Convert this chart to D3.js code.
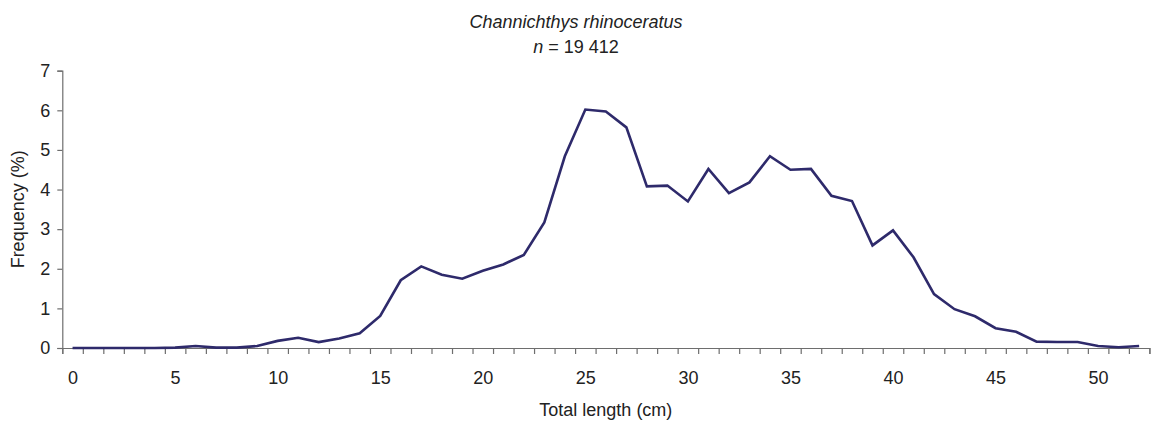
<!DOCTYPE html>
<html>
<head>
<meta charset="utf-8">
<script src="https://cdn.jsdelivr.net/npm/d3@7/dist/d3.min.js"></script>
<style>
  html, body { margin: 0; padding: 0; background: #fff; }
  svg { display: block; font-family: "Liberation Sans", Arial, sans-serif; }
</style>
</head>
<body>
<svg id="chart" width="1151" height="423"></svg>
<script>
// Length classes (cm)
const lengths = d3.range(0, 53);
// Frequency (%) per length class
const frequency = [
  0.00, 0.00, 0.00, 0.00, 0.00, 0.01, 0.05, 0.01, 0.01, 0.05,
  0.18, 0.26, 0.15, 0.24, 0.37, 0.81, 1.71, 2.06, 1.85, 1.75,
  1.95, 2.11, 2.35, 3.17, 4.84, 6.02, 5.97, 5.57, 4.08, 4.10,
  3.70, 4.52, 3.91, 4.18, 4.84, 4.50, 4.52, 3.84, 3.71, 2.59,
  2.97, 2.29, 1.36, 0.98, 0.80, 0.50, 0.41, 0.16, 0.15, 0.15,
  0.05, 0.02, 0.05
];
const xTickLabels = [0, 5, 10, 15, 20, 25, 30, 35, 40, 45, 50];
const yTickLabels = [0, 1, 2, 3, 4, 5, 6, 7];

const svg = d3.select("#chart");
const plotLeft = 62.3, plotRight = 1149.4, plotTop = 70.7, plotBottom = 348;
const fontSize = "18px";

const x = d3.scaleLinear().domain([-0.5, 52.5]).range([plotLeft, plotRight]);
const y = d3.scaleLinear().domain([0, 7]).range([plotBottom, plotTop]);

const axisColor = "#6e6e6e";
const textColor = "#222";

// x axis: tick marks on class boundaries
const gx = svg.append("g").attr("transform", `translate(0,${plotBottom})`);
gx.call(d3.axisBottom(x)
    .tickValues(d3.range(-0.5, 53, 1))
    .tickSize(6)
    .tickFormat(""));
// x axis labels at class centres
const gxl = svg.append("g").attr("transform", `translate(0,${plotBottom})`);
gxl.call(d3.axisBottom(x).tickValues(xTickLabels).tickSize(0).tickPadding(23).tickFormat(d3.format("d")));
gxl.select(".domain").remove();

// y axis
const gy = svg.append("g").attr("transform", `translate(${plotLeft},0)`);
gy.call(d3.axisLeft(y).tickValues(yTickLabels).tickSize(5).tickPadding(7).tickFormat(d3.format("d")));

svg.selectAll(".domain").attr("stroke", axisColor).attr("stroke-width", 1.2);
svg.selectAll(".tick line").attr("stroke", axisColor).attr("stroke-width", 1.2);
svg.selectAll(".tick text").attr("fill", textColor).style("font-size", fontSize)
   .style("font-family", "Liberation Sans, Arial, sans-serif");

// frequency line
const line = d3.line()
  .x((d, i) => x(lengths[i]))
  .y(d => y(d));
svg.append("path")
  .datum(frequency)
  .attr("fill", "none")
  .attr("stroke", "#2e2a6b")
  .attr("stroke-width", 2.6)
  .attr("stroke-linejoin", "miter")
  .attr("d", line);

// titles
svg.append("text")
  .attr("x", 576).attr("y", 28)
  .attr("text-anchor", "middle")
  .style("font-size", fontSize).style("font-style", "italic")
  .attr("fill", textColor)
  .text("Channichthys rhinoceratus");
const sub = svg.append("text")
  .attr("x", 576).attr("y", 53)
  .attr("text-anchor", "middle")
  .style("font-size", fontSize)
  .attr("fill", textColor);
sub.append("tspan").style("font-style", "italic").text("n");
sub.append("tspan").text(" = 19 412");

svg.append("text")
  .attr("x", (plotLeft + plotRight) / 2).attr("y", 416)
  .attr("text-anchor", "middle")
  .style("font-size", fontSize)
  .attr("fill", textColor)
  .text("Total length (cm)");

svg.append("text")
  .attr("transform", `translate(24,${(plotTop + plotBottom) / 2}) rotate(-90)`)
  .attr("text-anchor", "middle")
  .style("font-size", fontSize)
  .attr("fill", textColor)
  .text("Frequency (%)");
</script>
</body>
</html>
